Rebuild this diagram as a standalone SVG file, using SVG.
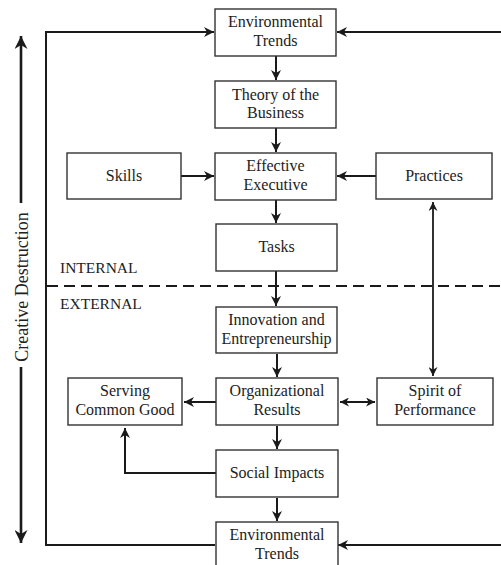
<svg xmlns="http://www.w3.org/2000/svg" width="501" height="565" viewBox="0 0 501 565">
  <style>
    .box { fill: #fff; stroke: #333; stroke-width: 1.4; }
    .lbl { font-family: "Liberation Serif", "DejaVu Serif", serif; font-size: 16px; fill: #222; text-anchor: middle; }
    .zone { font-family: "Liberation Serif", "DejaVu Serif", serif; font-size: 15.5px; fill: #222; }
    .lnb { fill: none; stroke: #1a1a1a; stroke-width: 2; marker-end: url(#ah); }
    .dbl { fill: none; stroke: #1a1a1a; stroke-width: 1.8; marker-start: url(#ahs); marker-end: url(#ah); }
  </style>
  <defs>
    <marker id="ah" viewBox="0 0 10 10" refX="10" refY="5" markerWidth="5" markerHeight="5" orient="auto" markerUnits="strokeWidth">
      <path d="M0,0 L10,5 L0,10 L3,5 Z" fill="#1a1a1a"/>
    </marker>
    <marker id="ahs" viewBox="0 0 10 10" refX="0" refY="5" markerWidth="5" markerHeight="5" orient="auto" markerUnits="strokeWidth">
      <path d="M10,0 L0,5 L10,10 L7,5 Z" fill="#1a1a1a"/>
    </marker>
  </defs>
  <rect width="501" height="565" fill="#fff"/>

  <!-- internal / external divider -->
  <line x1="47" y1="286" x2="501" y2="286" stroke="#1a1a1a" stroke-width="2" stroke-dasharray="11,6"/>
  <text class="zone" x="60" y="273">INTERNAL</text>
  <text class="zone" x="60" y="309">EXTERNAL</text>

  <!-- creative destruction axis -->
  <g id="creative-destruction">
    <line x1="21" y1="203" x2="21" y2="36" class="lnb" style="stroke-width:2.6"/>
    <line x1="21" y1="367" x2="21" y2="543" class="lnb" style="stroke-width:2.6"/>
    <text class="lbl" style="font-size:18px" transform="translate(27.5,287) rotate(-90)">Creative Destruction</text>
  </g>

  <g id="connectors">
    <!-- feedback loops into top Environmental Trends -->
    <polyline class="lnb" points="215,545 46,545 46,32 214,32"/>
    <line class="lnb" x1="501" y1="32" x2="337" y2="32"/>
    <line class="lnb" x1="501" y1="545" x2="338" y2="545"/>
    <!-- main spine -->
    <line class="lnb" x1="276" y1="56" x2="276" y2="80"/>
    <line class="lnb" x1="276" y1="128" x2="276" y2="152"/>
    <line class="lnb" x1="276" y1="200" x2="276" y2="223"/>
    <line class="lnb" x1="276" y1="271" x2="276" y2="306"/>
    <line class="lnb" x1="277" y1="354" x2="277" y2="377"/>
    <line class="lnb" x1="277" y1="426" x2="277" y2="449"/>
    <line class="lnb" x1="277" y1="498" x2="277" y2="521"/>
    <!-- side inputs -->
    <line class="lnb" x1="181" y1="176" x2="214" y2="176"/>
    <line class="lnb" x1="376" y1="176" x2="337" y2="176"/>
    <line class="dbl" x1="433" y1="202" x2="433" y2="376"/>
    <line class="dbl" x1="340" y1="402" x2="375" y2="402"/>
    <line class="lnb" x1="216" y1="402" x2="184" y2="402"/>
    <polyline class="lnb" points="216,473 125,473 125,428"/>
  </g>

  <g id="env-top">
    <rect class="box" x="215" y="9" width="121" height="47"/>
    <text class="lbl" x="275.5" y="27">Environmental</text>
    <text class="lbl" x="275.5" y="46">Trends</text>
  </g>
  <g id="theory">
    <rect class="box" x="215" y="81" width="121" height="47"/>
    <text class="lbl" x="275.5" y="100">Theory of the</text>
    <text class="lbl" x="275.5" y="118">Business</text>
  </g>
  <g id="skills">
    <rect class="box" x="67" y="153" width="114" height="46"/>
    <text class="lbl" x="124" y="181">Skills</text>
  </g>
  <g id="executive">
    <rect class="box" x="215" y="153" width="121" height="47"/>
    <text class="lbl" x="275.5" y="171">Effective</text>
    <text class="lbl" x="275.5" y="190">Executive</text>
  </g>
  <g id="practices">
    <rect class="box" x="376" y="153" width="116" height="46"/>
    <text class="lbl" x="434" y="181">Practices</text>
  </g>
  <g id="tasks">
    <rect class="box" x="216" y="224" width="121" height="47"/>
    <text class="lbl" x="276.5" y="252">Tasks</text>
  </g>
  <g id="innovation">
    <rect class="box" x="216" y="307" width="121" height="46"/>
    <text class="lbl" x="276.5" y="325">Innovation and</text>
    <text class="lbl" x="276.5" y="344">Entrepreneurship</text>
  </g>
  <g id="serving">
    <rect class="box" x="68" y="378" width="114" height="47"/>
    <text class="lbl" x="125" y="396">Serving</text>
    <text class="lbl" x="125" y="415">Common Good</text>
  </g>
  <g id="results">
    <rect class="box" x="216" y="378" width="122" height="47"/>
    <text class="lbl" x="277" y="396">Organizational</text>
    <text class="lbl" x="277" y="415">Results</text>
  </g>
  <g id="spirit">
    <rect class="box" x="377" y="378" width="116" height="47"/>
    <text class="lbl" x="435" y="396">Spirit of</text>
    <text class="lbl" x="435" y="415">Performance</text>
  </g>
  <g id="social">
    <rect class="box" x="216" y="450" width="122" height="47"/>
    <text class="lbl" x="277" y="478">Social Impacts</text>
  </g>
  <g id="env-bottom">
    <rect class="box" x="216" y="522" width="122" height="47"/>
    <text class="lbl" x="277" y="540">Environmental</text>
    <text class="lbl" x="277" y="559">Trends</text>
  </g>
</svg>
